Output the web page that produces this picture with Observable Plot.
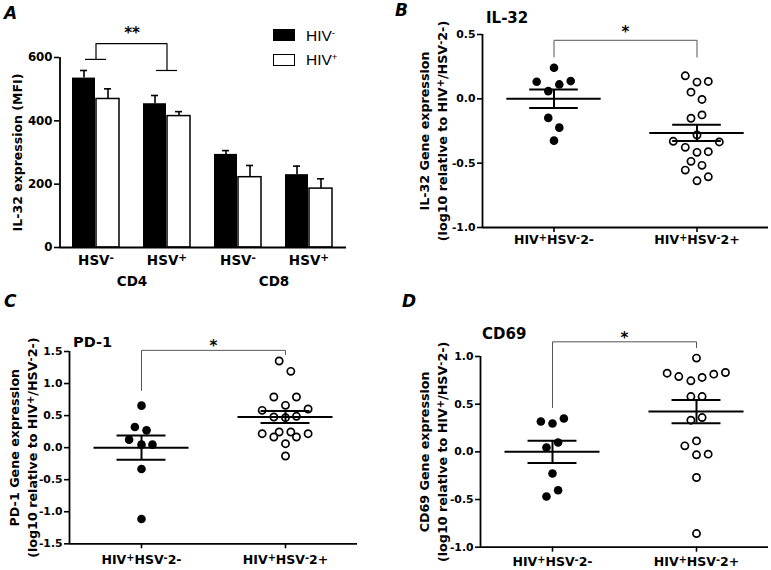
<!DOCTYPE html>
<html>
<head>
<meta charset="utf-8">
<script src="https://cdn.jsdelivr.net/npm/d3@7"></script>
<script src="https://cdn.jsdelivr.net/npm/@observablehq/plot@0.6"></script>
<style>
  body { margin: 0; background: #fff; }
  #fig { position: relative; width: 771px; height: 570px; background: #fff; overflow: hidden; }
  .panel { position: absolute; }
  .letter { position: absolute; font-family: "DejaVu Sans"; font-weight: bold; font-style: italic; font-size: 17px; line-height: 1; }
  .title { position: absolute; font-family: "DejaVu Sans"; font-weight: bold; font-size: 14.5px; line-height: 1; }
  .leg { position: absolute; font-family: "Liberation Sans"; font-size: 15.5px; line-height: 1; }
  .leg sup { font-size: 0.62em; vertical-align: 0.5em; line-height: 0; }
  .swatch { position: absolute; box-sizing: border-box; }
</style>
</head>
<body>
<div id="fig">
  <div class="panel" id="pA" style="left:0;top:0;width:360px;height:290px"></div>
  <div class="panel" id="pB" style="left:385px;top:0;width:386px;height:290px"></div>
  <div class="panel" id="pC" style="left:0;top:290px;width:385px;height:280px"></div>
  <div class="panel" id="pD" style="left:385px;top:290px;width:386px;height:280px"></div>

  <div class="letter" style="left:4px;top:5px">A</div>
  <div class="letter" style="left:395px;top:2px">B</div>
  <div class="letter" style="left:4px;top:293px">C</div>
  <div class="letter" style="left:402px;top:293px">D</div>

  <div class="title" style="left:486px;top:11px;font-size:15px">IL-32</div>
  <div class="title" style="left:73px;top:335px">PD-1</div>
  <div class="title" style="left:482px;top:327px;font-size:15px">CD69</div>

  <div class="swatch" style="left:273px;top:29px;width:22px;height:12px;background:#000"></div>
  <div class="leg" style="left:306px;top:27.5px">HIV<sup>-</sup></div>
  <div class="swatch" style="left:273px;top:53.5px;width:22px;height:12px;background:#fff;border:1.6px solid #000"></div>
  <div class="leg" style="left:306px;top:51.5px">HIV<sup>+</sup></div>
</div>
<script>
// ---------------- Panel A data ----------------
const aGroups = ["CD4 HSV-", "CD4 HSV+", "CD8 HSV-", "CD8 HSV+"];
const aTickLabels = ["HSV⁻", "HSV⁺", "HSV⁻", "HSV⁺"];
const aCellTypes = ["CD4", "CD8"];
const aHivNeg = [535, 454, 294, 230];
const aHivNegErr = [24, 26, 12, 27];
const aHivPos = [469, 415, 222, 186];
const aHivPosErr = [32, 14, 37, 31];
const aBracket = [594, 644, 644, 559]; // left foot, top, top, right foot (MFI units)

// ---------------- Scatter panels shared ----------------
const sGroupLabels = ["HIV⁺HSV⁻2-", "HIV⁺HSV⁻2+"];

// Panel B: IL-32
const bNeg = [0.242, 0.133, 0.112, 0.138, 0.06, -0.148, -0.224, -0.325];
const bNegJitter = [0, -0.121, 0.037, 0.117, -0.04, -0.04, 0.037, 0];
const bPos = [0.179, 0.13, 0.135, 0.052, -0.005, -0.151, -0.125, -0.281, -0.33, -0.335, -0.377, -0.416, -0.411, -0.486, -0.517, -0.554, -0.606, -0.637];
const bPosJitter = [-0.082, 0, 0.079, -0.042, 0.035, -0.042, 0.035, 0, -0.166, 0.156, -0.082, 0, 0.079, -0.042, 0.035, -0.082, 0.079, 0];
const bMean = [0, -0.265];
const bSem = [0.072, 0.063];
const bBracket = [0.325, 0.455, 0.455, 0.325];

// Panel C: PD-1
const cNeg = [0.655, 0.322, 0.27, 0.125, 0.047, 0.047, -0.333, -1.113];
const cNegJitter = [0, -0.046, 0.035, -0.086, 0, 0.076, 0, 0];
const cPos = [1.352, 1.19, 0.79, 0.79, 0.66, 0.582, 0.603, 0.478, 0.468, 0.489, 0.218, 0.244, 0.244, 0.218, 0.166, 0.166, 0.062, -0.13];
const cPosJitter = [-0.044, 0.037, -0.081, 0.076, 0, -0.162, 0.157, -0.081, 0, 0.076, -0.162, -0.044, 0.037, 0.157, -0.081, 0.076, 0, 0];
const cMean = [0, 0.478];
const cSem = [0.19, 0.094];
const cBracket = [0.894, 1.518, 1.518, 1.456];

// Panel D: CD69
const dNeg = [0.318, 0.297, 0.35, 0.098, 0.045, -0.227, -0.402, -0.469];
const dNegJitter = [-0.081, 0, 0.079, 0.039, -0.042, 0, 0.039, -0.042];
const dPos = [0.983, 0.825, 0.79, 0.745, 0.78, 0.815, 0.832, 0.58, 0.58, 0.332, 0.36, 0.063, 0.115, -0.031, -0.024, -0.269, -0.857];
const dPosJitter = [0, -0.204, -0.123, -0.039, 0.039, 0.12, 0.201, -0.039, 0.039, -0.039, 0.039, -0.081, 0, 0, 0.081, 0, 0];
const dMean = [0, 0.423];
const dSem = [0.117, 0.122];
const dBracket = [0.465, 1.154, 1.154, 1.094];

const baseStyle = {fontFamily: "DejaVu Sans", fontWeight: "bold", color: "black", background: "transparent", overflow: "visible"};

// ---------------- Panel A ----------------
{
  const neg = aGroups.map((g, i) => ({g, v: aHivNeg[i], e: aHivNegErr[i]}));
  const pos = aGroups.map((g, i) => ({g, v: aHivPos[i], e: aHivPosErr[i]}));
  const bx = [aGroups[0], aGroups[0], aGroups[1], aGroups[1]];
  const bracket = aBracket.map((y, i) => ({x: bx[i], y}));
  const feet = [{x: aGroups[0], y: aBracket[0]}, {x: aGroups[1], y: aBracket[3]}];
  const cells = aCellTypes.map((c, i) => ({c, g: aGroups[i * 2]}));
  const plot = Plot.plot({
    width: 360, height: 290,
    marginLeft: 59, marginRight: 14, marginTop: 57, marginBottom: 43,
    style: {...baseStyle, fontSize: "11.8px"},
    x: {domain: aGroups, paddingInner: 0.333, paddingOuter: 0.1667, label: null},
    y: {domain: [0, 600], label: null},
    marks: [
      Plot.barY(neg, {x: "g", y: "v", fill: "black", insetRight: 24}),
      Plot.barY(pos, {x: "g", y: "v", fill: "white", stroke: "black", strokeWidth: 1.5, insetLeft: 24}),
      Plot.ruleX(neg, {x: "g", y1: "v", y2: d => d.v + d.e, dx: -12, strokeWidth: 1.6}),
      Plot.tickY(neg, {x: "g", y: d => d.v + d.e, insetLeft: 8, insetRight: 32, strokeWidth: 1.6}),
      Plot.ruleX(pos, {x: "g", y1: "v", y2: d => d.v + d.e, dx: 12, strokeWidth: 1.6}),
      Plot.tickY(pos, {x: "g", y: d => d.v + d.e, insetLeft: 32, insetRight: 8, strokeWidth: 1.6}),
      Plot.axisX({tickSize: 0, tickPadding: 8, tickFormat: g => aTickLabels[aGroups.indexOf(g)], fontSize: 13.5, label: null}),
      Plot.axisY({ticks: [0, 200, 400, 600], tickSize: 5, tickPadding: 2, strokeWidth: 1.6, fontSize: 11.8, label: null}),
      Plot.ruleY([0], {strokeWidth: 1.8}),
      Plot.ruleX([aGroups[0]], {dx: -36, strokeWidth: 1.8}),
      Plot.line(bracket, {x: "x", y: "y", stroke: "black", strokeWidth: 1.2}),
      Plot.tickY(feet, {x: "x", y: "y", insetLeft: 13, insetRight: 13, strokeWidth: 1.2}),
      Plot.text(["**"], {x: () => aGroups[0], y: () => aBracket[1], text: d => d, dx: 36, dy: -10, fontSize: 15}),
      Plot.text(cells, {x: "g", text: "c", frameAnchor: "bottom", dx: 36, dy: 38, fontSize: 13.5}),
      Plot.text(["IL-32 expression (MFI)"], {text: d => d, frameAnchor: "left", textAnchor: "middle", rotate: -90, dx: -42, fontSize: 12.5})
    ]
  });
  document.getElementById("pA").append(plot);
}

// ---------------- Scatter panels ----------------
function scatterPanel(cfg) {
  const negPts = cfg.neg.map((v, i) => ({x: 0 + cfg.negJitter[i], y: v}));
  const posPts = cfg.pos.map((v, i) => ({x: 1 + cfg.posJitter[i], y: v}));
  const stats = cfg.mean.map((m, g) => ({g, mean: m, sem: cfg.sem[g]}));
  const bx = [0, 0, 1, 1];
  const bracket = cfg.bracket.map((y, i) => ({x: bx[i], y}));
  const meanHalf = 0.33, semHalf = 0.17;
  return Plot.plot({
    width: cfg.width, height: cfg.height,
    marginLeft: cfg.margins[0], marginRight: cfg.margins[1], marginTop: cfg.margins[2], marginBottom: cfg.margins[3],
    style: {...baseStyle, fontSize: "10.8px"},
    x: {domain: [-0.5, 1.5], label: null},
    y: {domain: cfg.yDomain, label: null},
    marks: [
      Plot.axisX({ticks: [0, 1], tickFormat: i => sGroupLabels[i], tickSize: 5, tickPadding: cfg.xPad, strokeWidth: 1.6, fontSize: 12.5, label: null}),
      Plot.axisY({ticks: cfg.yTicks, tickFormat: d => d.toFixed(1), tickSize: 5, tickPadding: 2, strokeWidth: 1.6, fontSize: 10.8, label: null}),
      Plot.ruleX([-0.5], {strokeWidth: 1.8}),
      Plot.ruleY([cfg.yDomain[0]], {strokeWidth: 1.8}),
      Plot.line(bracket, {x: "x", y: "y", stroke: "#555", strokeWidth: 1}),
      Plot.text(["*"], {x: () => 0.5, y: () => cfg.bracket[1], text: d => d, dy: cfg.starDy, fontSize: 15}),
      Plot.dot(negPts, {x: "x", y: "y", r: 4.3, fill: "black"}),
      Plot.dot(posPts, {x: "x", y: "y", r: 3.6, fill: "white", stroke: "black", strokeWidth: 1.7}),
      Plot.ruleY(stats, {x1: d => d.g - meanHalf, x2: d => d.g + meanHalf, y: "mean", strokeWidth: 2}),
      Plot.ruleY(stats, {x1: d => d.g - semHalf, x2: d => d.g + semHalf, y: d => d.mean + d.sem, strokeWidth: 2}),
      Plot.ruleY(stats, {x1: d => d.g - semHalf, x2: d => d.g + semHalf, y: d => d.mean - d.sem, strokeWidth: 2}),
      Plot.ruleX(stats, {x: "g", y1: d => d.mean - d.sem, y2: d => d.mean + d.sem, strokeWidth: 2}),
      Plot.text([cfg.ylabel], {text: d => d, frameAnchor: "left", textAnchor: "middle", rotate: -90, dx: cfg.labelDx, lineHeight: 1.42, fontSize: 12.7})
    ]
  });
}

document.getElementById("pB").append(scatterPanel({
  neg: bNeg, negJitter: bNegJitter, pos: bPos, posJitter: bPosJitter, mean: bMean, sem: bSem, bracket: bBracket,
  yDomain: [-1, 0.5], yTicks: [-1, -0.5, 0, 0.5],
  ylabel: "IL-32 Gene expression\n(log10 relative to HIV⁺/HSV⁻2-)",
  width: 386, height: 290, margins: [97, 3, 34, 63], labelDx: -50, starDy: -8, xPad: 3
}));

document.getElementById("pC").append(scatterPanel({
  neg: cNeg, negJitter: cNegJitter, pos: cPos, posJitter: cPosJitter, mean: cMean, sem: cSem, bracket: cBracket,
  yDomain: [-1.5, 1.5], yTicks: [-1.5, -1, -0.5, 0, 0.5, 1, 1.5],
  ylabel: "PD-1 Gene expression\n(log10 relative to HIV⁺/HSV⁻2-)",
  width: 385, height: 280, margins: [69, 28, 61, 26.7], labelDx: -47.5, starDy: -4.5, xPad: 6.5
}));

document.getElementById("pD").append(scatterPanel({
  neg: dNeg, negJitter: dNegJitter, pos: dPos, posJitter: dPosJitter, mean: dMean, sem: dSem, bracket: dBracket,
  yDomain: [-1, 1], yTicks: [-1, -0.5, 0, 0.5, 1],
  ylabel: "CD69 Gene expression\n(log10 relative to HIV⁺/HSV⁻2-)",
  width: 386, height: 280, margins: [95, 3, 66, 23.3], labelDx: -48.5, starDy: -4, xPad: 5
}));

// render superscript characters as raised tspans
const SVGNS = "http://www.w3.org/2000/svg";
document.querySelectorAll("#fig svg text, #fig svg tspan").forEach(el => {
  if (el.children.length) return;
  const s = el.textContent;
  if (!/[⁺⁻]/.test(s)) return;
  el.textContent = "";
  let buf = "";
  for (const ch of s) {
    if (ch === "⁺" || ch === "⁻") {
      if (buf) { el.appendChild(document.createTextNode(buf)); buf = ""; }
      const t = document.createElementNS(SVGNS, "tspan");
      t.setAttribute("baseline-shift", "35%");
      t.setAttribute("font-size", "0.78em");
      t.textContent = ch === "⁺" ? "+" : "-";
      el.appendChild(t);
    } else buf += ch;
  }
  if (buf) el.appendChild(document.createTextNode(buf));
});
</script>
</body>
</html>
